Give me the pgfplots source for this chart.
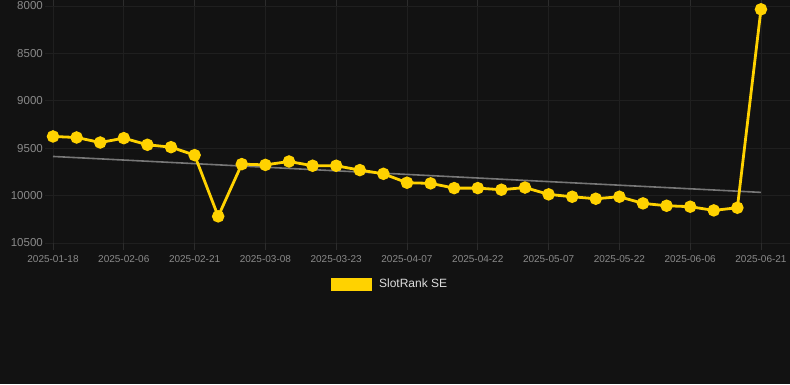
\documentclass[border=0pt]{standalone}
\usepackage{pgfplots}
\pgfplotsset{compat=1.18}
\usepackage{fontspec}
\setmainfont{Liberation Sans}
\definecolor{bg}{HTML}{121212}
\definecolor{slotyellow}{HTML}{FFD200}
\definecolor{gridc}{HTML}{1F1F1F}
\definecolor{tickmc}{HTML}{2C2C2C}
\definecolor{tickc}{HTML}{8A8A8A}
\definecolor{trendc}{HTML}{777777}
\definecolor{legc}{HTML}{DDDDDD}
\begin{document}
\begin{tikzpicture}[x=1pt,y=1pt]
\useasboundingbox (0,0) rectangle (790,384);
\fill[bg] (0,0) rectangle (790,384);
\begin{axis}[
  at={(45pt,141pt)}, anchor=south west,
  scale only axis, width=745pt, height=237pt,
  xmin=-0.339, xmax=31.23,
  ymin=8000, ymax=10500, y dir=reverse,
  ytick={8000,8500,9000,9500,10000,10500},
  xtick={0,3,...,30},
  xticklabels={2025-01-18,2025-02-06,2025-02-21,2025-03-08,2025-03-23,2025-04-07,2025-04-22,2025-05-07,2025-05-22,2025-06-06,2025-06-21},
  axis line style={draw=none},
  grid=major,
  major grid style={gridc, line width=0.8pt},
  xtick align=outside,
  major tick length=7pt,
  xtick style={draw=tickmc, line width=0.8pt},
  ytick style={draw=none},
  xticklabel style={font=\fontsize{10}{12}\selectfont, text=tickc, inner sep=0pt, yshift=-5pt},
  yticklabel style={font=\fontsize{11.5}{13}\selectfont, text=tickc, inner sep=0pt, xshift=-2pt},
  /pgf/number format/assume math mode=true,
  scaled y ticks=false,
  yticklabel={\pgfmathprintnumber[fixed,1000 sep={}]{\tick}},
  legend style={at={(0.463,-0.173)}, anchor=center, draw=none, fill=none,
    text=legc, font=\fontsize{12}{14}\selectfont, inner sep=0pt,
    /tikz/every odd column/.append style={column sep=6pt}},
  legend cell align=left,
  clip=false,
]
\addlegendimage{legend image code/.code={\fill[slotyellow] (0pt,-6pt) rectangle (40pt,6pt);}}
\addlegendentry{SlotRank SE}
\addplot[trendc, line width=1.6pt, forget plot] coordinates {(0,9587) (30,9966)};
\addplot[slotyellow, line width=2.8pt, mark=*, mark size=4.8pt, mark options={solid, fill=slotyellow, draw=none}, forget plot] coordinates {
(0,9376) (1,9387) (2,9440) (3,9394) (4,9464) (5,9489) (6,9573) (7,10219)
(8,9668) (9,9676) (10,9640) (11,9685) (12,9685) (13,9731) (14,9770) (15,9864)
(16,9871) (17,9921) (18,9921) (19,9938) (20,9915) (21,9987) (22,10012) (23,10033)
(24,10012) (25,10082) (26,10107) (27,10117) (28,10156) (29,10128) (30,8035)
};
\end{axis}
\end{tikzpicture}
\end{document}
